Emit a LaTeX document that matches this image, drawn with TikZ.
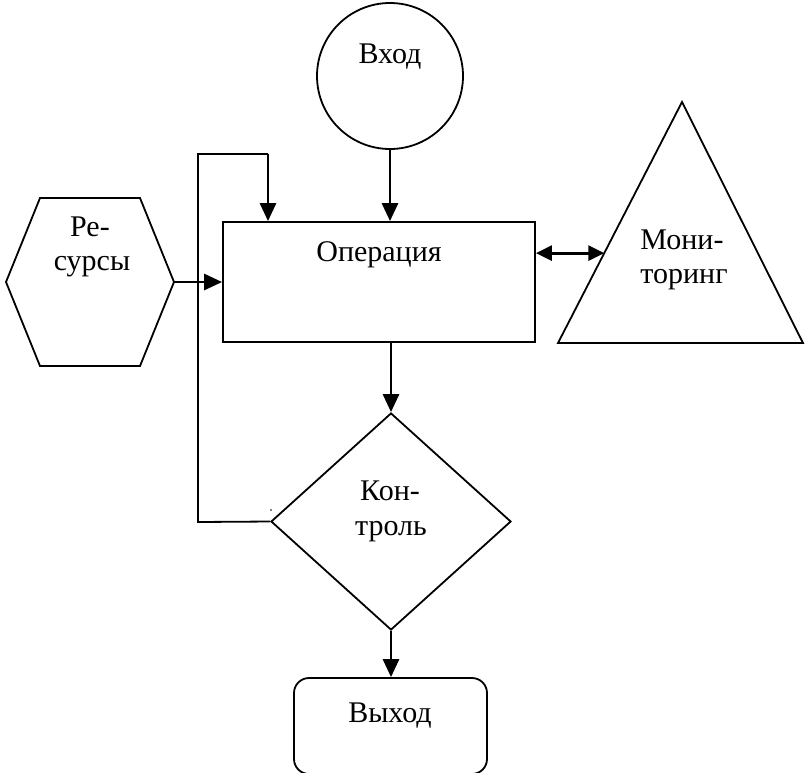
\documentclass[tikz,border=0pt]{standalone}
\usepackage{fontspec}
\setmainfont{Liberation Serif}
\usetikzlibrary{arrows.meta,shapes.geometric,calc}
\begin{document}
\begin{tikzpicture}[x=1pt,y=-1pt,
  outline/.style={draw,line width=1.8pt,inner sep=0pt},
  conn/.style={line width=2.8pt,-{Triangle[length=18pt,width=16pt]}},
  bothconn/.style={line width=2.8pt,{Triangle[length=16pt,width=15pt]}-{Triangle[length=16pt,width=15pt]}},
  fbline/.style={line width=1.8pt},
  lbl/.style={font=\fontsize{30}{35}\selectfont,anchor=base,inner sep=0pt}]
\useasboundingbox (0,0) rectangle (805,772);
\clip (0,0) rectangle (805,772);

% input circle
\node[outline,circle,minimum size=146pt] (inp) at (390,76) {};
\node[lbl] (inptxt) at (390,63) {Вход};

% operation box
\node[outline,rectangle,minimum width=312pt,minimum height=120pt] (op) at (379,282) {};
\node[lbl] (optxt) at (379,261) {Операция};

% resources hexagon
\coordinate (hexL) at (6,282);
\coordinate (hexR) at (174,282);
\draw[line width=1.8pt] (hexL) -- (40,198) -- (140,198) -- (hexR) -- (140,366) -- (40,366) -- cycle;
\node[lbl] (restxt1) at (90,236) {Ре-};
\node[lbl] (restxt2) at (92,270) {сурсы};

% monitoring triangle
\coordinate (triTop) at (682,102);
\coordinate (triBL) at (558,343);
\coordinate (triBR) at (803,343);
\coordinate (monL) at ($(triTop)!0.627!(triBL)$);
\draw[line width=1.8pt] (triTop) -- (triBL) -- (triBR) -- cycle;
\node[lbl] (montxt1) at (682,249) {Мони-};
\node[lbl] (montxt2) at (684,283) {торинг};

% control diamond
\node[outline,diamond,minimum width=240pt,minimum height=217pt] (ctl) at (391,521.5) {};
\node[lbl] (ctltxt1) at (390,500) {Кон-};
\node[lbl] (ctltxt2) at (391,535) {троль};
\fill (271,510) circle (0.9pt);

% output box
\node[outline,rectangle,rounded corners=15pt,minimum width=193pt,minimum height=96pt] (out) at (390.5,726) {};
\node[lbl] (outtxt) at (390,722) {Выход};

% connectors
\draw[conn] (inp.south) -- (inp.south |- op.north);
\draw[conn] (hexR) -- (op.west |- hexR);
\draw[bothconn] (op.east |- monL) -- (monL);
\draw[conn] (op.south -| ctl.north) -- (ctl.north);
\draw[conn] (ctl.south) -- (ctl.south |- out.north);

% feedback loop from control back to the operation
\coordinate (fbA) at (198,522);
\coordinate (fbB) at (198,154);
\coordinate (fbC) at (268,154);
\draw[fbline] (ctl.west) -- (fbA) -- (fbB) -- (fbC);
\draw[conn] (fbC) -- (fbC |- op.north);
\end{tikzpicture}
\end{document}
